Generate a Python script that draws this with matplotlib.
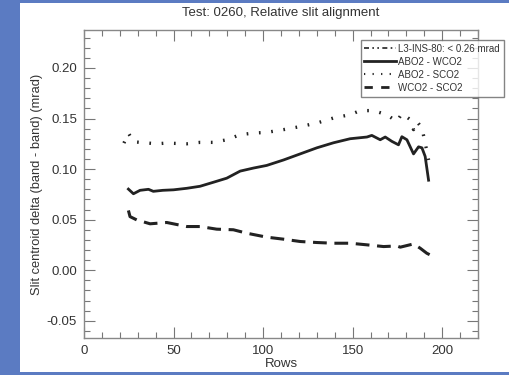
import matplotlib
matplotlib.use("Agg")
import matplotlib.pyplot as plt
from matplotlib.patches import Rectangle
from matplotlib.ticker import MultipleLocator, FormatStrFormatter
from matplotlib.lines import Line2D

plt.rcParams['font.family'] = ['Liberation Sans', 'DejaVu Sans']

# ABO2 - WCO2 (solid)
rows_aw = [24.8, 27.6, 31.3, 36.0, 38.7, 44.0, 50.0, 57.4, 64.8, 72.3, 79.7, 87.2,
           94.6, 102.0, 111.4, 120.7, 130.0, 139.3, 148.6, 158.0, 160.7, 165.4,
           168.2, 171.9, 175.6, 177.5, 180.3, 184.0, 186.8, 188.7, 190.5, 192.4]
vals_aw = [0.0802, 0.0756, 0.0790, 0.0800, 0.0780, 0.0790, 0.0795, 0.0810, 0.0830,
           0.0870, 0.0910, 0.0980, 0.1010, 0.1036, 0.1090, 0.1150, 0.1210, 0.1260,
           0.1300, 0.1317, 0.1333, 0.1290, 0.1317, 0.1274, 0.1240, 0.1320, 0.1290,
           0.1150, 0.1220, 0.1210, 0.1125, 0.0890]

# ABO2 - SCO2 (dotted)
rows_as = [22.3, 24.8, 27.6, 31.3, 40.6, 46.0, 57.4, 64.8, 72.3, 79.7, 87.2, 94.6,
           102.0, 111.4, 120.7, 130.0, 139.3, 148.6, 154.2, 161.6, 169.0, 174.7,
           177.5, 182.1, 184.0, 185.9, 188.7, 190.5, 192.4]
vals_as = [0.1257, 0.1356, 0.1270, 0.1264, 0.1250, 0.1257, 0.1250, 0.1264, 0.1264,
           0.1290, 0.1340, 0.1356, 0.1363, 0.1390, 0.1420, 0.1455, 0.1505, 0.1538,
           0.1578, 0.1578, 0.1538, 0.1470, 0.1550, 0.1490, 0.1390, 0.1470, 0.1406,
           0.1257, 0.1090]

# WCO2 - SCO2 (dashed)
rows_ws = [24.8, 25.7, 29.4, 36.9, 46.2, 57.4, 64.8, 74.1, 83.4, 90.9, 102.0, 111.4,
           120.7, 130.0, 139.3, 148.6, 158.0, 167.3, 174.7, 176.6, 184.0, 187.7,
           191.4, 195.1]
vals_ws = [0.0591, 0.0530, 0.0498, 0.0459, 0.0472, 0.0432, 0.0432, 0.0406, 0.0400,
           0.0366, 0.0327, 0.0307, 0.0284, 0.0274, 0.0267, 0.0267, 0.0251, 0.0234,
           0.0240, 0.0228, 0.0260, 0.0218, 0.0168, 0.0135]

legend_labels = ['L3-INS-80: < 0.26 mrad', 'ABO2 - WCO2', 'ABO2 - SCO2', 'WCO2 - SCO2']

fig = plt.figure(figsize=(5.1, 3.75), dpi=100, facecolor='#5b7bc2')
fig.patches.append(Rectangle((20 / 510, 3 / 375), 490 / 510, 369 / 375,
                             transform=fig.transFigure, facecolor='white',
                             edgecolor='none', zorder=-10))

ax = fig.add_axes([84 / 510, 37 / 375, 394 / 510, 308 / 375])
ax.set_zorder(5)
ink = '#222222'
ax.plot(rows_aw, vals_aw, color=ink, lw=2.0, ls='-')
ax.plot(rows_as, vals_as, color=ink, lw=2.4, ls=(0, (0.5, 3.2)))
ax.plot(rows_ws, vals_ws, color=ink, lw=2.2, ls=(0, (4.5, 2.5)))

ax.set_xlim(0, 220)
ax.set_ylim(-0.067, 0.2375)
ax.xaxis.set_major_locator(MultipleLocator(50))
ax.xaxis.set_minor_locator(MultipleLocator(10))
ax.yaxis.set_major_locator(MultipleLocator(0.05))
ax.yaxis.set_minor_locator(MultipleLocator(0.01))
ax.yaxis.set_major_formatter(FormatStrFormatter('%.2f'))
ax.tick_params(which='both', direction='in', top=True, right=True,
               color='#777777', labelsize=9.5, labelcolor='#333333')
ax.tick_params(which='major', length=8, width=0.8, pad=5)
ax.tick_params(which='minor', length=4, width=0.8)
for s in ax.spines.values():
    s.set_color('#888888')
    s.set_linewidth(1.0)

ax.set_xlabel('Rows', fontsize=9.5, color='#333333', labelpad=1)
ax.set_ylabel('Slit centroid delta (band - band) (mrad)', fontsize=9.3,
              color='#333333', labelpad=3)
fig.text(0.551, 0.966, 'Test: 0260, Relative slit alignment', ha='center',
         va='center', fontsize=9.5, color='#333333')

handles = [Line2D([], [], color=ink, lw=1.2, ls=(0, (3, 2, 1, 2, 1, 2))),
           Line2D([], [], color=ink, lw=2.0, ls='-'),
           Line2D([], [], color=ink, lw=1.5, ls=(0, (0.6, 3.5))),
           Line2D([], [], color=ink, lw=2.0, ls=(0, (3, 3)))]
leg = ax.legend(handles, legend_labels, loc='upper right',
                bbox_to_anchor=(504 / 510, 335 / 375), bbox_transform=fig.transFigure,
                fontsize=7, frameon=True, fancybox=False, handlelength=3.2,
                handletextpad=0.3, borderpad=0.4, labelspacing=0.3,
                edgecolor='#666666', borderaxespad=0)
leg.get_frame().set_linewidth(1.0)
for t in leg.get_texts():
    t.set_color('#333333')

fig.savefig('out.png', dpi=100, facecolor=fig.get_facecolor())
